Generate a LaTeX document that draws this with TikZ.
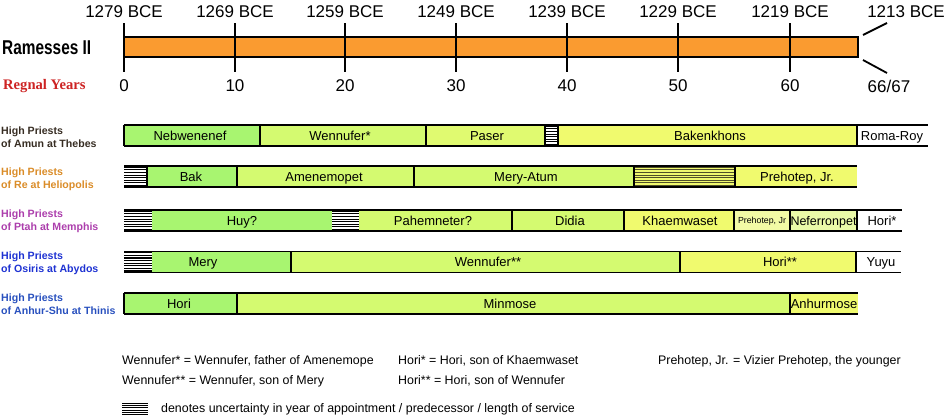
\documentclass[tikz,border=0pt]{standalone}
\usepackage{fontspec}
\setmainfont{Liberation Sans}
\newfontfamily\serifface{Liberation Serif}
\definecolor{cgreen}{RGB}{168,245,112}
\definecolor{cyg}{RGB}{212,250,112}
\definecolor{cyg2}{RGB}{224,250,112}
\definecolor{cyel}{RGB}{240,250,110}
\definecolor{cpale}{RGB}{242,250,165}
\definecolor{cpale2}{RGB}{234,250,168}
\definecolor{corange}{RGB}{250,155,48}
\definecolor{colive}{RGB}{80,80,40}
\definecolor{camun}{RGB}{55,45,35}
\definecolor{cre}{RGB}{218,140,40}
\definecolor{cptah}{RGB}{172,62,172}
\definecolor{cosiris}{RGB}{30,50,210}
\definecolor{canhur}{RGB}{40,80,190}
\definecolor{cred}{RGB}{205,35,35}
\tikzset{
  barline/.style={line width=1.3pt, black},
  tickline/.style={line width=2.6pt, black},
  yearlbl/.style={font=\fontsize{17}{17}\selectfont, inner sep=0pt, anchor=center},
  seglbl/.style={font=\fontsize{13}{13}\selectfont, inner sep=0pt, anchor=center, text height=9.4pt, text depth=0pt},
  rowlbl/.style={font=\fontsize{10.6}{13}\selectfont\bfseries, inner sep=0pt, anchor=west, align=left},
  leglbl/.style={font=\fontsize{12.4}{12.4}\selectfont, inner sep=0pt, anchor=west},
}
\newcommand\hatchbox[6]{% x1,x2,yt,yb,bg,line colour
  \fill[#5] (#1,#3) rectangle (#2,#4);
  \foreach \k in {0,...,7}{\draw[#6, line width=1.1pt] (#1,#3+1.3+2.6*\k) -- (#2,#3+1.3+2.6*\k);}
}
\begin{document}
\begin{tikzpicture}[x=1pt,y=-1pt]
\useasboundingbox (0,0) rectangle (946,418);
% ---------- timeline ----------
\node[font=\fontsize{20}{20}\selectfont\bfseries, inner sep=0pt, anchor=west] (ram) at (2,48) {\scalebox{0.77}[1]{Ramesses II}};
\node[font=\fontsize{14.6}{14.6}\selectfont\serifface\bfseries, text=cred, inner sep=0pt, anchor=west] (reg) at (3,86) {Regnal Years};
\fill[corange] (124,37) rectangle (858,57);
\draw[line width=1.2pt] (124,37) rectangle (858,57);
\foreach \x/\yr/\n in {124/1279/0,235/1269/10,345/1259/20,456/1249/30,567/1239/40,678/1229/50,790/1219/60}{
  \draw[tickline] (\x,23) -- (\x,72);
  \node[yearlbl] (top\n) at (\x,12) {\yr\ BCE};
  \node[yearlbl] (bot\n) at (\x,86) {\n};
}
\node[yearlbl] (topend) at (906,12) {1213 BCE};
\node[yearlbl] (botend) at (889,86) {66/67};
\coordinate (s1a) at (863,35); \coordinate (s1b) at (887,23);
\coordinate (s2a) at (863,60); \coordinate (s2b) at (887,73);
\draw[line width=1.8pt] (s1a) -- (s1b);
\draw[line width=1.8pt] (s2a) -- (s2b);
% ---------- row labels ----------
\node[rowlbl, text=camun] (l1) at (1,137) {High Priests\\of Amun at Thebes};
\node[rowlbl, text=cre] (l2) at (1,179) {High Priests\\of Re at Heliopolis};
\node[rowlbl, text=cptah] (l3) at (1,221.5) {High Priests\\of Ptah at Memphis};
\node[rowlbl, text=cosiris] (l4) at (1,263) {High Priests\\of Osiris at Abydos};
\node[rowlbl, text=canhur] (l5) at (1,304) {High Priests\\of Anhur-Shu at Thinis};
% ---------- row 1: Amun ----------
\fill[cgreen] (124,125) rectangle (260,146);
\fill[cyg] (260,125) rectangle (426,146);
\fill[cyg2] (426,125) rectangle (545,146);
\hatchbox{545}{558}{125}{146}{white}{black}
\fill[cyel] (558,125) rectangle (857,146);
\draw[barline] (124,125) -- (928,125) (124,146) -- (928,146);
\foreach \x in {124,260,426,545,558,857}{\draw[barline] (\x,125) -- (\x,146);}
\node[seglbl] (a1) at (190,135.5) {Nebwenenef};
\node[seglbl] (a2) at (340,135.5) {Wennufer*};
\node[seglbl] (a3) at (487,135.5) {Paser};
\node[seglbl] (a4) at (710,135.5) {Bakenkhons};
\node[seglbl] (a5) at (892,135.5) {Roma-Roy};
% ---------- row 2: Re ----------
\hatchbox{124}{147}{166}{187}{white}{black}
\fill[cgreen] (147,166) rectangle (237,187);
\fill[cyg] (237,166) rectangle (634,187);
\hatchbox{634}{735}{166}{187}{cyel}{colive}
\fill[cyel] (735,166) rectangle (857,187);
\draw[barline] (124,166) -- (857,166) (124,187) -- (857,187);
\foreach \x in {147,237,414,634,735}{\draw[barline] (\x,166) -- (\x,187);}
\node[seglbl] (b1) at (191,176.5) {Bak};
\node[seglbl] (b2) at (324,176.5) {Amenemopet};
\node[seglbl] (b3) at (526,176.5) {Mery-Atum};
\node[seglbl] (b4) at (797,176.5) {Prehotep, Jr.};
% ---------- row 3: Ptah ----------
\hatchbox{124}{152}{210}{231}{white}{black}
\fill[cgreen] (152,210) rectangle (332,231);
\hatchbox{332}{359}{210}{231}{white}{black}
\fill[cyg] (359,210) rectangle (624,231);
\fill[cyel] (624,210) rectangle (734,231);
\fill[cpale] (734,210) rectangle (790,231);
\fill[cpale2] (790,210) rectangle (857,231);
\draw[barline] (124,210) -- (902,210) (124,231) -- (902,231);
\foreach \x in {512,624,734,790,857}{\draw[barline] (\x,210) -- (\x,231);}
\node[seglbl] (c1) at (242,220.5) {Huy?};
\node[seglbl] (c2) at (433,220.5) {Pahemneter?};
\node[seglbl] (c3) at (570,220.5) {Didia};
\node[seglbl] (c4) at (680,220.5) {Khaemwaset};
\node[seglbl, font=\fontsize{8.8}{9}\selectfont, text height=6.4pt] (c5) at (762,220.5) {Prehotep, Jr};
\node[seglbl, font=\fontsize{12.5}{12.5}\selectfont] (c6) at (823.5,220.5) {Neferronpet};
\node[seglbl] (c7) at (882,220.5) {Hori*};
% ---------- row 4: Osiris ----------
\hatchbox{124}{152}{251.5}{272.5}{white}{black}
\fill[cgreen] (152,251.5) rectangle (291,272.5);
\fill[cyg] (291,251.5) rectangle (680,272.5);
\fill[cyel] (680,251.5) rectangle (856,272.5);
\draw[barline] (124,251.5) -- (901,251.5) (124,272.5) -- (901,272.5);
\foreach \x in {291,680,856}{\draw[barline] (\x,251.5) -- (\x,272.5);}
\node[seglbl] (d1) at (203,262) {Mery};
\node[seglbl] (d2) at (488,262) {Wennufer**};
\node[seglbl] (d3) at (780,262) {Hori**};
\node[seglbl] (d4) at (881,262) {Yuyu};
% ---------- row 5: Anhur-Shu ----------
\fill[cgreen] (124,293) rectangle (237,314);
\fill[cyg] (237,293) rectangle (790,314);
\fill[cyel] (790,293) rectangle (858,314);
\draw[barline] (124,293) -- (858,293) (124,314) -- (858,314);
\foreach \x in {124,237,790}{\draw[barline] (\x,293) -- (\x,314);}
\node[seglbl] (e1) at (179,303.5) {Hori};
\node[seglbl] (e2) at (510,303.5) {Minmose};
\node[seglbl] (e3) at (824,303.5) {Anhurmose};
% ---------- legend ----------
\node[leglbl] (g1) at (122,361) {Wennufer* = Wennufer, father of Amenemope};
\node[leglbl] (g2) at (122,381) {Wennufer** = Wennufer, son of Mery};
\node[leglbl] (g3) at (398,361) {Hori* = Hori, son of Khaemwaset};
\node[leglbl] (g4) at (398,381) {Hori** = Hori, son of Wennufer};
\node[leglbl] (g5) at (658,361) {Prehotep, Jr. = Vizier Prehotep, the younger};
\fill[white] (122,403) rectangle (148,415);
\foreach \k in {0,...,5}{\draw[black, line width=1.1pt] (122,403.5+2.2*\k) -- (148,403.5+2.2*\k);}
\node[leglbl] (g6) at (161,409) {denotes uncertainty in year of appointment / predecessor / length of service};
\end{tikzpicture}
\end{document}
